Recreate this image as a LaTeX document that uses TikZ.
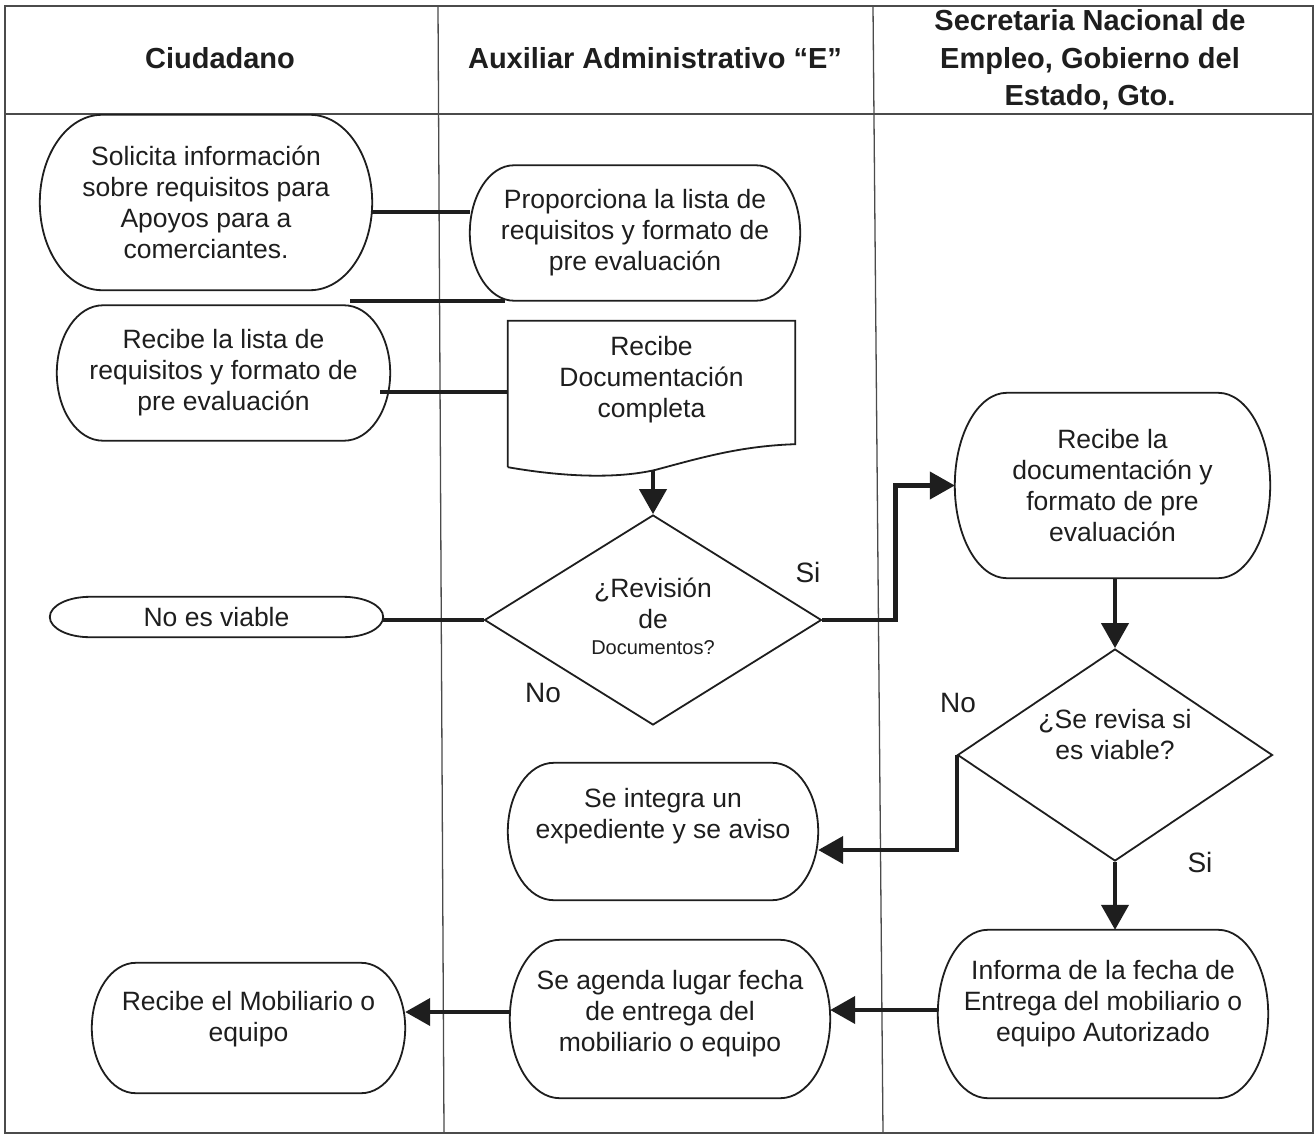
\documentclass[tikz,border=0pt]{standalone}
\usepackage{fontspec}
\setmainfont{Liberation Sans}
\usetikzlibrary{arrows.meta,shapes.geometric,calc}
\definecolor{inkc}{HTML}{1E1E1E}
\tikzset{
  lane/.style={draw=inkc!80, line width=1.3pt},
  boxline/.style={draw=inkc, line width=1.8pt},
  proc/.style={inner sep=0pt, align=center, text=inkc, font=\fontsize{26.5}{31}\selectfont},
  decision/.style={diamond, aspect=1.6, draw=inkc, line width=1.8pt, inner sep=0pt},
  txt/.style={align=center, text=inkc, inner sep=0pt, font=\fontsize{26.5}{31}\selectfont},
  head/.style={align=center, text=inkc, inner sep=0pt, font=\fontsize{29}{37.5}\selectfont\bfseries},
  lbl/.style={text=inkc, inner sep=0pt, font=\fontsize{28}{32}\selectfont},
  conn/.style={draw=inkc, line width=4.2pt},
  arrow/.style={conn, -{Triangle[length=25pt,width=27pt]}},
}
% outline of a process box: flat top and bottom, half-elliptic ends of
% horizontal radius #2 spanning the full height of node #1
\newcommand\ovaloutline[2]{%
  \draw[boxline] let \p1=(#1.north west), \p2=(#1.south east), \n1={(\y1-\y2)/2} in
    (\x1+#2,\y1) -- (\x2-#2,\y1)
    arc[start angle=90, end angle=-90, x radius=#2, y radius=\n1]
    -- (\x1+#2,\y2)
    arc[start angle=270, end angle=90, x radius=#2, y radius=\n1] -- cycle;}
\begin{document}
\begin{tikzpicture}[x=1pt,y=-1pt]
\useasboundingbox (0,0) rectangle (1315,1137);
\fill[white] (0,0) rectangle (1315,1137);

% swimlane table
\draw[lane] (5,6) rectangle (1313,1133);
\draw[lane] (5,114) -- (1313,114);
\draw[lane] (438,6) -- (444,1133);
\draw[lane] (873,6) -- (883,1133);

% lane headers
\node[head] (h1) at (220,58) {Ciudadano};
\node[head] (h2) at (655,58) {Auxiliar Administrativo “E”};
\node[head] (h3) at (1090,60) {Secretaria Nacional de\\Empleo, Gobierno del\\Estado, Gto.};

% process boxes
\node[proc, minimum width=332pt, minimum height=175pt] (solicita) at (206,202.5)
  {Solicita información\\sobre requisitos para\\Apoyos para a\\comerciantes.};
\ovaloutline{solicita}{62pt}
\node[proc, minimum width=330pt, minimum height=135pt] (prop) at (635,233)
  {Proporciona la lista de\\requisitos y formato de\\pre evaluación};
\ovaloutline{prop}{44pt}
\node[proc, minimum width=333pt, minimum height=135pt] (lista) at (223.5,373)
  {Recibe la lista de\\requisitos y formato de\\pre evaluación};
\ovaloutline{lista}{46pt}

% document shape
\node[inner sep=0pt, minimum width=287pt, minimum height=146pt] (doc) at (651.5,394) {};
\draw[boxline] (doc.south west) -- (doc.north west) -- (doc.north east)
  -- ([yshift=23pt]doc.south east)
  .. controls (740,446) and (700,458) .. (655,470)
  .. controls (620,478) and (570,478) .. (doc.south west);
\node[txt] (docT) at (651.5,380) {Recibe\\Documentación\\completa};
\coordinate (docbot) at (653,471);

% first decision
\node[decision, minimum width=337pt, minimum height=210pt] (d1) at (653,620) {};
\node[txt] (d1T) at (653,616.5)
  {¿Revisión\\de\\[-5pt]{\fontsize{20}{24}\selectfont Documentos?}};
\node[proc, minimum width=333pt, minimum height=40pt] (noviable) at (216.5,617) {No es viable};
\ovaloutline{noviable}{40pt}

\node[proc, minimum width=315pt, minimum height=185pt] (recdoc) at (1112.5,485.5)
  {Recibe la\\documentación y\\formato de pre\\evaluación};
\ovaloutline{recdoc}{52pt}

% second decision
\node[decision, minimum width=315pt, minimum height=212pt] (d2) at (1115,755) {};
\node[txt] (d2T) at (1115,735) {¿Se revisa si\\es viable?};

\node[proc, minimum width=310pt, minimum height=137pt] (integra) at (663,831.5) {};
\ovaloutline{integra}{46pt}
\node[txt] (integraT) at (663,816) {Se integra un\\expediente y se aviso};

\node[proc, minimum width=330pt, minimum height=168pt] (informa) at (1103,1014) {};
\ovaloutline{informa}{50pt}
\node[txt] (informaT) at (1103,1004) {Informa de la fecha de\\Entrega del mobiliario o\\equipo Autorizado};

\node[proc, minimum width=320pt, minimum height=158pt] (agenda) at (670,1019) {};
\ovaloutline{agenda}{50pt}
\node[txt] (agendaT) at (670,1014) {Se agenda lugar fecha\\de entrega del\\mobiliario o equipo};

\node[proc, minimum width=313pt, minimum height=130pt] (mobil) at (248.5,1028) {};
\ovaloutline{mobil}{44pt}
\node[txt] (mobilT) at (248.5,1019) {Recibe el Mobiliario o\\equipo};

% branch labels
\node[lbl] (si1) at (808,572) {Si};
\node[lbl] (no1) at (543,693) {No};
\node[lbl] (no2) at (958,703) {No};
\node[lbl] (si2) at (1200,862) {Si};

% connectors
\coordinate (pl) at ([xshift=35pt]prop.south west);
\coordinate (ll) at ([xshift=-40pt]lista.north east);
\draw[conn] (solicita.east |- 0,212) -- (prop.west |- 0,212);
\draw[conn] (pl |- 0,301) -- (ll |- 0,301);
\draw[conn] ([xshift=-10pt]lista.east |- 0,392) -- (doc.west |- 0,392);
\draw[arrow] (docbot) -- (d1.north);
\draw[conn] (d1.west) -- (d1.west -| noviable.east);
\draw[arrow] (d1.east) -- ++(73,0) |- (recdoc.west);
\draw[arrow] (recdoc.south -| d2.north) -- (d2.north);
\draw[arrow] (d2.west) -- (d2.west |- 0,850) -- (integra.east |- 0,850);
\draw[arrow] (d2.south) -- (d2.south |- informa.north);
\draw[arrow] (informa.west |- 0,1010) -- (agenda.east |- 0,1010);
\draw[arrow] (agenda.west |- 0,1012) -- (mobil.east |- 0,1012);
\end{tikzpicture}
\end{document}
